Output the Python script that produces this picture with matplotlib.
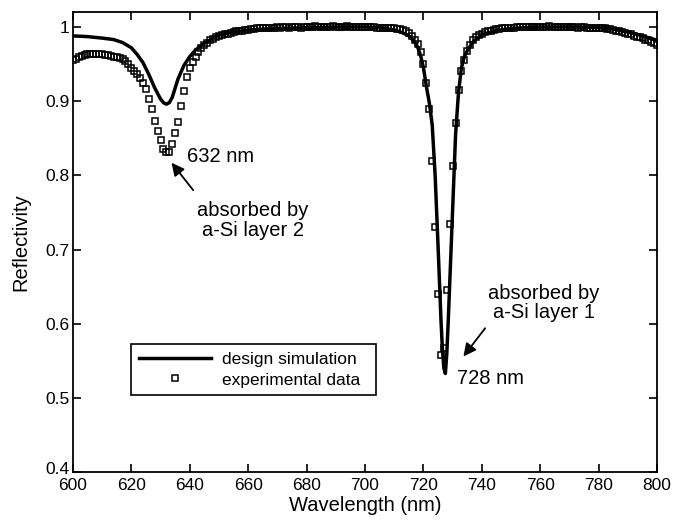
import numpy as np
import matplotlib.pyplot as plt
from matplotlib.transforms import ScaledTranslation

plt.rcParams['font.family'] = ['Liberation Sans', 'DejaVu Sans']

# design simulation (wavelength nm, reflectivity)
sim_wl = [600, 605, 610, 614, 617, 620, 622, 624, 626, 628, 630, 631, 632, 633, 634,
          636, 638, 640, 642, 645, 648, 650, 655, 660, 670, 680, 690, 700, 705, 710,
          713, 715, 717, 718, 719, 720, 721, 722, 723, 724, 725, 726, 726.5, 727,
          727.5, 728, 728.5, 729, 730, 731, 732, 733, 734, 735, 737, 740, 745, 750,
          760, 770, 780, 785, 790, 795, 800]
sim_r = [0.988, 0.987, 0.985, 0.983, 0.979, 0.972, 0.963, 0.952, 0.936, 0.918, 0.903,
         0.898, 0.896, 0.898, 0.905, 0.930, 0.948, 0.960, 0.969, 0.978, 0.985, 0.989,
         0.993, 0.996, 0.998, 0.999, 1.000, 1.000, 0.999, 0.996, 0.992, 0.988, 0.980,
         0.973, 0.962, 0.945, 0.920, 0.898, 0.868, 0.800, 0.705, 0.605, 0.565, 0.540,
         0.533, 0.560, 0.605, 0.655, 0.755, 0.855, 0.912, 0.945, 0.960, 0.968, 0.980,
         0.990, 0.995, 0.998, 1.000, 1.000, 0.999, 0.997, 0.993, 0.988, 0.982]

# experimental data, 1 nm steps from 600 to 800 nm
exp_wl = np.arange(600, 801, 1)
exp_r = [
    0.955, 0.957, 0.959, 0.961, 0.962, 0.963, 0.963, 0.964, 0.964, 0.963,  # 600
    0.963, 0.962, 0.962, 0.961, 0.960, 0.959, 0.958, 0.957, 0.954, 0.950,  # 610
    0.945, 0.941, 0.936, 0.931, 0.924, 0.916, 0.903, 0.889, 0.873, 0.860,  # 620
    0.847, 0.836, 0.831, 0.832, 0.842, 0.857, 0.872, 0.893, 0.914, 0.932,  # 630
    0.945, 0.953, 0.960, 0.966, 0.971, 0.976, 0.979, 0.982, 0.984, 0.986,  # 640
    0.988, 0.989, 0.990, 0.991, 0.992, 0.993, 0.994, 0.995, 0.995, 0.996,  # 650
    0.996, 0.997, 0.997, 0.998, 0.998, 0.998, 0.999, 0.999, 0.999, 0.999,  # 660
    1.000, 0.999, 1.000, 1.000, 0.999, 1.000, 1.000, 1.000, 0.999, 1.000,  # 670
    1.000, 1.000, 1.000, 1.001, 1.000, 1.000, 1.000, 1.000, 1.000, 1.001,  # 680
    1.000, 1.000, 1.000, 1.000, 1.001, 1.000, 1.000, 1.000, 1.000, 1.000,  # 690
    1.000, 1.000, 1.000, 1.000, 0.999, 0.999, 0.999, 0.999, 0.998, 0.998,  # 700
    0.998, 0.997, 0.997, 0.996, 0.995, 0.992, 0.988, 0.983, 0.977, 0.966,  # 710
    0.950, 0.925, 0.890, 0.820, 0.730, 0.640, 0.558, 0.567, 0.645, 0.735,  # 720
    0.812, 0.870, 0.915, 0.940, 0.956, 0.967, 0.976, 0.982, 0.986, 0.989,  # 730
    0.991, 0.993, 0.994, 0.995, 0.996, 0.997, 0.997, 0.998, 0.998, 0.999,  # 740
    0.999, 0.999, 1.000, 1.000, 1.000, 1.000, 1.000, 1.000, 1.000, 1.000,  # 750
    1.000, 1.000, 1.000, 1.001, 1.000, 1.000, 1.000, 1.000, 1.000, 1.000,  # 760
    1.000, 1.000, 1.000, 0.999, 1.000, 1.000, 0.999, 0.999, 0.999, 0.999,  # 770
    0.999, 0.998, 0.998, 0.997, 0.997, 0.996, 0.995, 0.994, 0.993, 0.992,  # 780
    0.991, 0.990, 0.988, 0.987, 0.986, 0.985, 0.983, 0.982, 0.980, 0.978,  # 790
    0.976]

fig = plt.figure(figsize=(6.81, 5.27), dpi=100)
ax = fig.add_axes([0.107, 0.104, 0.858, 0.873])

ax.plot(sim_wl, sim_r, 'k-', linewidth=2.5, label='design simulation')
ax.plot(exp_wl, exp_r, 's', color='k', mfc='none', markersize=4.2,
        markeredgewidth=1.1, label='experimental data')

ax.set_xlim(600, 800)
ax.set_ylim(0.4, 1.02)
ax.set_xticks(np.arange(600, 801, 20))
ax.set_yticks([0.4, 0.5, 0.6, 0.7, 0.8, 0.9, 1.0])
ax.set_yticklabels(['0.4', '0.5', '0.6', '0.7', '0.8', '0.9', '1'])
ax.tick_params(direction='in', top=True, right=True, length=6, width=1.2,
               labelsize=12.5)
ax.tick_params(axis='x', pad=4.5)
ax.tick_params(axis='y', pad=2.5)
# the bottom y label sits a bit above its tick, clear of the "600"
lab = ax.get_yticklabels()[0]
lab.set_transform(lab.get_transform() + ScaledTranslation(0, 4 / 100, fig.dpi_scale_trans))
for s in ax.spines.values():
    s.set_linewidth(1.3)

ax.set_xlabel('Wavelength (nm)', fontsize=14.5, labelpad=1.5)
ax.set_ylabel('Reflectivity', fontsize=14.5)
ax.yaxis.set_label_coords(-0.072, 0.5)

fs = 14.5
arrow = dict(arrowstyle='-|>', color='k', lw=1.3, mutation_scale=19)
ax.text(639, 0.826, '632 nm', fontsize=fs, va='center', ha='left')
ax.annotate('', xy=(633.2, 0.820), xytext=(641.8, 0.777), arrowprops=arrow)
ax.text(661.6, 0.739, 'absorbed by\na-Si layer 2', fontsize=fs, ha='center',
        va='center', linespacing=1.05)

ax.text(761.3, 0.628, 'absorbed by\na-Si layer 1', fontsize=fs, ha='center',
        va='center', linespacing=1.05)
ax.annotate('', xy=(733.1, 0.553), xytext=(741.7, 0.597), arrowprops=arrow)
ax.text(731.4, 0.526, '728 nm', fontsize=fs, va='center', ha='left')

leg = ax.legend(loc='lower left', bbox_to_anchor=(0.099, 0.167, 0.42, 0.137),
                mode='expand', fontsize=12.5, handlelength=4.2, borderaxespad=0,
                fancybox=False, edgecolor='k', framealpha=1, markerscale=1.0,
                handletextpad=0.6, labelspacing=0.3, borderpad=0.45)
leg.get_frame().set_linewidth(1.2)

fig.savefig('out.png', dpi=100)
